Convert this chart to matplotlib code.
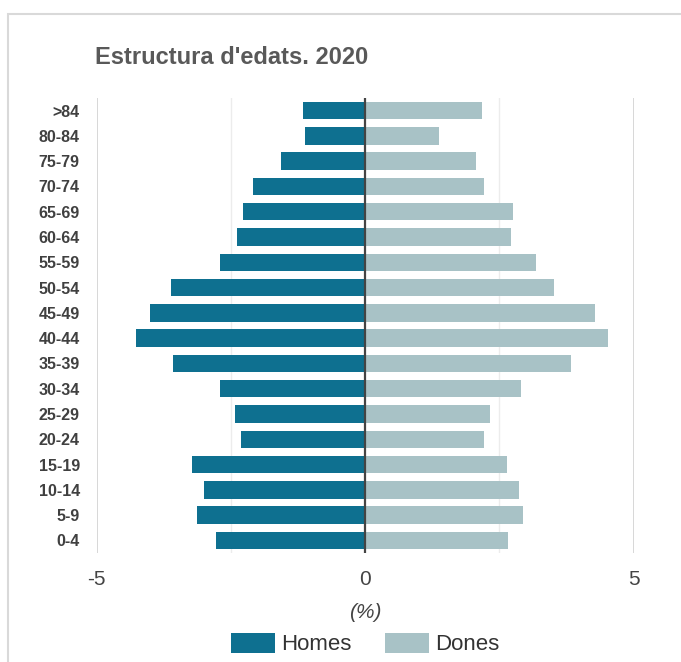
import matplotlib
matplotlib.use("Agg")
import matplotlib.pyplot as plt
from matplotlib.patches import Rectangle
import numpy as np

# age groups, bottom to top
age_groups = ["0-4", "5-9", "10-14", "15-19", "20-24", "25-29", "30-34", "35-39",
              "40-44", "45-49", "50-54", "55-59", "60-64", "65-69", "70-74",
              "75-79", "80-84", ">84"]
homes = [2.77, 3.12, 3.00, 3.23, 2.31, 2.42, 2.70, 3.58,
         4.27, 4.00, 3.61, 2.70, 2.39, 2.27, 2.08, 1.57, 1.11, 1.15]
dones = [2.67, 2.94, 2.86, 2.64, 2.21, 2.32, 2.90, 3.83,
         4.52, 4.29, 3.52, 3.18, 2.72, 2.75, 2.21, 2.06, 1.37, 2.17]

c_homes = "#0e7090"
c_dones = "#a8c2c6"

plt.rcParams["font.family"] = ["Liberation Sans", "DejaVu Sans"]

fig = plt.figure(figsize=(6.81, 6.62), dpi=100)
fig.patches.append(Rectangle((8 / 681, -0.1), 1.2, 1 - 14 / 662 + 0.1,
                             transform=fig.transFigure, fill=False,
                             edgecolor="#d9d9d9", linewidth=1.5))

ax = fig.add_axes([96.5 / 681, 109 / 662, 537 / 681, 455 / 662])
y = np.arange(len(age_groups))
ax.barh(y, -np.array(homes), height=0.69, color=c_homes, label="Homes", zorder=2)
ax.barh(y, dones, height=0.69, color=c_dones, label="Dones", zorder=2)

ax.set_xlim(-5, 5)
ax.set_ylim(-0.5, len(age_groups) - 0.5)
for x in (-5, 5):
    ax.axvline(x, color="#d4d4d4", linewidth=1.3, zorder=1)
for x in (-2.5, 2.5):
    ax.axvline(x, color="#ececec", linewidth=1.0, zorder=1)
ax.axvline(0, color="#444444", linewidth=1.6, zorder=3)

for s in ax.spines.values():
    s.set_visible(False)

ax.set_xticks([-5, 0, 5])
ax.set_xticklabels(["-5", "0", "5"], fontsize=15, color="#444444")
ax.tick_params(axis="x", length=0, pad=12)
ax.set_yticks(y)
ax.set_yticklabels(age_groups, fontsize=11.5, fontweight="bold", color="#404040")
ax.tick_params(axis="y", length=0, pad=12)

ax.set_xlabel("(%)", fontsize=15, style="italic", color="#444444", labelpad=10)

fig.text(95 / 681, 1 - 57 / 662, "Estructura d'edats. 2020", fontsize=17,
         fontweight="bold", color="#595959", va="center", ha="left")

fig.legend(loc="center", bbox_to_anchor=(365 / 681, 1 - 644 / 662), ncol=2,
           frameon=False, fontsize=16, handlelength=2.0, handleheight=1.0,
           handletextpad=0.25, columnspacing=1.5, labelcolor="#333333")

fig.savefig("out.png", dpi=100)
